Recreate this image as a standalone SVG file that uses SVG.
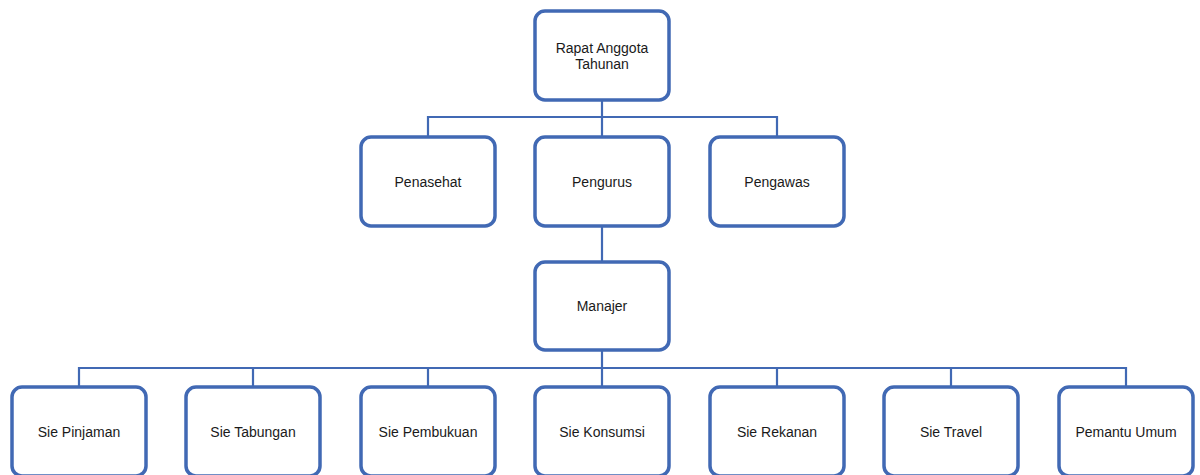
<svg xmlns="http://www.w3.org/2000/svg" width="1200" height="475" viewBox="0 0 1200 475">
<style>
.box{fill:#fff;stroke:#4169b4;stroke-width:3.5}
.ln{fill:none;stroke:#4169b4;stroke-width:2.2}
text{font-family:"Liberation Sans",Arial,sans-serif;font-size:14px;fill:#1a1a1a;text-anchor:middle;dominant-baseline:central}
</style>
<rect width="1200" height="475" fill="#fff"/>
<g id="connectors">
<path class="ln" d="M602 100V117M428 136V117H777V136M602 117V136"/>
<path class="ln" d="M602 227V261"/>
<path class="ln" d="M602 350V386M79 386V368H1126V386M253 368V386M428 368V386M777 368V386M951 368V386"/>
</g>
<g id="rapat"><rect class="box" x="535" y="11" width="134" height="89" rx="10"/><text x="602" y="48">Rapat Anggota</text><text x="602" y="64">Tahunan</text></g>
<g id="penasehat"><rect class="box" x="361" y="137" width="134" height="89" rx="10"/><text x="428" y="182">Penasehat</text></g>
<g id="pengurus"><rect class="box" x="535" y="137" width="134" height="89" rx="10"/><text x="602" y="182">Pengurus</text></g>
<g id="pengawas"><rect class="box" x="710" y="137" width="134" height="89" rx="10"/><text x="777" y="182">Pengawas</text></g>
<g id="manajer"><rect class="box" x="535" y="262" width="134" height="88" rx="10"/><text x="602" y="306">Manajer</text></g>
<g id="sie-pinjaman"><rect class="box" x="12" y="387" width="134" height="89" rx="10"/><text x="79" y="432">Sie Pinjaman</text></g>
<g id="sie-tabungan"><rect class="box" x="186" y="387" width="134" height="89" rx="10"/><text x="253" y="432">Sie Tabungan</text></g>
<g id="sie-pembukuan"><rect class="box" x="361" y="387" width="134" height="89" rx="10"/><text x="428" y="432">Sie Pembukuan</text></g>
<g id="sie-konsumsi"><rect class="box" x="535" y="387" width="134" height="89" rx="10"/><text x="602" y="432">Sie Konsumsi</text></g>
<g id="sie-rekanan"><rect class="box" x="710" y="387" width="134" height="89" rx="10"/><text x="777" y="432">Sie Rekanan</text></g>
<g id="sie-travel"><rect class="box" x="884" y="387" width="134" height="89" rx="10"/><text x="951" y="432">Sie Travel</text></g>
<g id="pemantu-umum"><rect class="box" x="1059" y="387" width="134" height="89" rx="10"/><text x="1126" y="432">Pemantu Umum</text></g>
</svg>
